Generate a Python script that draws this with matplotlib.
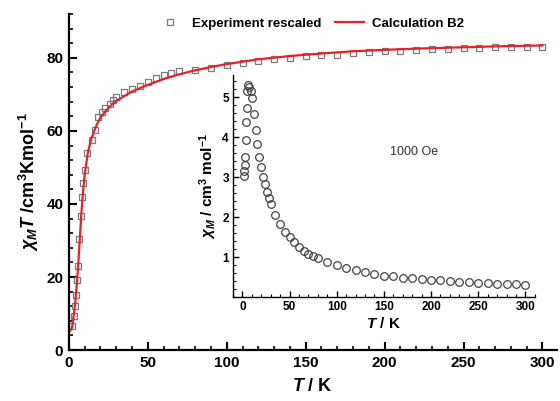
import matplotlib
matplotlib.use("Agg")
import matplotlib.pyplot as plt
from matplotlib.ticker import MultipleLocator

plt.rcParams['font.family'] = ['Liberation Sans', 'DejaVu Sans']
plt.rcParams['mathtext.fontset'] = 'custom'
plt.rcParams['mathtext.it'] = 'Liberation Sans:italic:bold'
plt.rcParams['mathtext.rm'] = 'Liberation Sans:bold'
plt.rcParams['mathtext.bf'] = 'Liberation Sans:bold'

# Main plot: experiment (rescaled chi_M*T) and calculation
exp_T = [2.2, 3.0, 3.8, 4.5, 5.2, 5.8, 6.6, 7.6, 8.2, 9.0, 10.0, 11.5, 14.4, 16.5,
         18.6, 21, 23, 26, 28, 30, 35, 40, 45, 50, 55, 60, 65, 70, 80, 90, 100,
         110, 120, 130, 140, 150, 160, 170, 180, 190, 200, 210, 220, 230, 240,
         250, 260, 270, 280, 290, 300]
exp_chiT = [6.6, 9.2, 12.0, 15.2, 19.3, 23.1, 30.5, 36.8, 41.8, 45.8, 49.3, 54.0,
            57.5, 60.3, 63.9, 65.3, 66.4, 67.4, 68.4, 69.3, 70.7, 71.6, 72.4, 73.4,
            74.4, 75.2, 75.8, 76.3, 76.8, 77.3, 78.0, 78.6, 79.1, 79.6, 80.0, 80.45,
            80.7, 80.9, 81.2, 81.5, 81.8, 82.0, 82.1, 82.3, 82.4, 82.6, 82.7, 82.9,
            82.9, 83.0, 83.0]

calc_T = [0.2, 0.5, 1, 1.5, 2, 2.5, 3, 3.5, 4, 5, 6, 7, 8, 9, 10, 12, 14, 16, 18, 20,
          25, 30, 40, 50, 60, 70, 80, 90, 100, 120, 140, 160, 180, 200, 225, 250,
          275, 300]
calc_chiT = [5.3, 5.3, 5.4, 5.7, 6.3, 7.5, 9.3, 11.0, 13.0, 18.0, 24.0, 31.0, 38.0,
             43.5, 48.0, 54.0, 57.5, 60.0, 62.0, 63.7, 66.3, 68.2, 70.8, 72.6, 74.2,
             75.5, 76.6, 77.5, 78.3, 79.6, 80.5, 81.2, 81.8, 82.2, 82.6, 82.9, 83.2,
             83.4]

# Inset: chi_M vs T at 1000 Oe
in_T = [2.0, 2.2, 2.5, 3.0, 3.5, 4.0, 4.5, 5.0, 6.0, 7.0, 9.0, 10, 12, 14, 16, 18,
        20, 22, 24, 26, 28, 30, 35, 40, 45, 50, 55, 60, 65, 70, 75, 80, 90, 100,
        110, 120, 130, 140, 150, 160, 170, 180, 190, 200, 210, 220, 230, 240, 250,
        260, 270, 280, 290, 300]
in_chi = [3.03, 3.16, 3.30, 3.49, 3.93, 4.37, 4.72, 5.16, 5.30, 5.26, 5.16, 4.97,
          4.57, 4.17, 3.83, 3.49, 3.24, 3.00, 2.82, 2.63, 2.47, 2.33, 2.05, 1.82,
          1.63, 1.49, 1.37, 1.26, 1.16, 1.09, 1.03, 0.97, 0.88, 0.80, 0.73, 0.675,
          0.62, 0.575, 0.54, 0.52, 0.49, 0.47, 0.45, 0.43, 0.42, 0.40, 0.38, 0.37,
          0.36, 0.35, 0.34, 0.33, 0.32, 0.30]

fig = plt.figure(figsize=(5.6, 4.01), dpi=100)
ax = fig.add_axes([0.123, 0.127, 0.871, 0.838])
ax.plot(exp_T, exp_chiT, linestyle='none', marker='s', markersize=5,
        markerfacecolor='none', markeredgecolor='#7a7a7a', markeredgewidth=0.9,
        label='Experiment rescaled')
ax.plot(calc_T, calc_chiT, color='#e8202a', linewidth=1.6, label='Calculation B2')
ax.set_xlim(0, 309)
ax.set_ylim(0, 92)
for s in ['top', 'right']:
    ax.spines[s].set_visible(False)
for s in ['left', 'bottom']:
    ax.spines[s].set_linewidth(1.6)
ax.xaxis.set_major_locator(MultipleLocator(50))
ax.xaxis.set_minor_locator(MultipleLocator(10))
ax.yaxis.set_major_locator(MultipleLocator(20))
ax.yaxis.set_minor_locator(MultipleLocator(4))
ax.tick_params(which='major', direction='in', length=6, width=1.5, labelsize=11, pad=4)
ax.tick_params(which='minor', direction='in', length=3, width=1.2)
for lab in ax.get_xticklabels() + ax.get_yticklabels():
    lab.set_fontweight('bold')
ax.set_xlabel(r'$T$ / K', fontsize=13, fontweight='bold', labelpad=6)
ax.set_ylabel(r'$\chi_M T$ /cm$^3$Kmol$^{-1}$', fontsize=13, fontweight='bold', labelpad=4)
leg = ax.legend(loc='upper center', bbox_to_anchor=(0.493, 1.025), ncol=2, frameon=False,
                prop={'weight': 'bold', 'size': 9.5}, handlelength=2.2,
                columnspacing=1.0, handletextpad=0.6)

# inset
ins = fig.add_axes([0.416, 0.259, 0.539, 0.554])
ins.plot(in_T, in_chi, linestyle='none', marker='o', markersize=5.5,
         markerfacecolor='none', markeredgecolor='#444444', markeredgewidth=0.9)
ins.set_xlim(-10, 310)
ins.set_ylim(0, 5.55)
ins.patch.set_alpha(0)
for s in ['top', 'right']:
    ins.spines[s].set_visible(False)
for s in ['left', 'bottom']:
    ins.spines[s].set_linewidth(1.0)
ins.xaxis.set_major_locator(MultipleLocator(50))
ins.xaxis.set_minor_locator(MultipleLocator(10))
ins.set_yticks([1, 2, 3, 4, 5])
ins.yaxis.set_minor_locator(MultipleLocator(0.2))
ins.tick_params(which='major', direction='in', length=4, width=1.0, labelsize=8.5, pad=3)
ins.tick_params(which='minor', direction='in', length=2, width=0.8)
for lab in ins.get_xticklabels() + ins.get_yticklabels():
    lab.set_fontweight('bold')
ins.set_xlabel(r'$T$ / K', fontsize=11, fontweight='bold', labelpad=2)
ins.set_ylabel(r'$\chi_M$ / cm$^3$ mol$^{-1}$', fontsize=11, fontweight='bold', labelpad=2)
ins.text(0.52, 0.64, '1000 Oe', transform=ins.transAxes, fontsize=9, color='#333333')

fig.savefig('out.png', dpi=100)
